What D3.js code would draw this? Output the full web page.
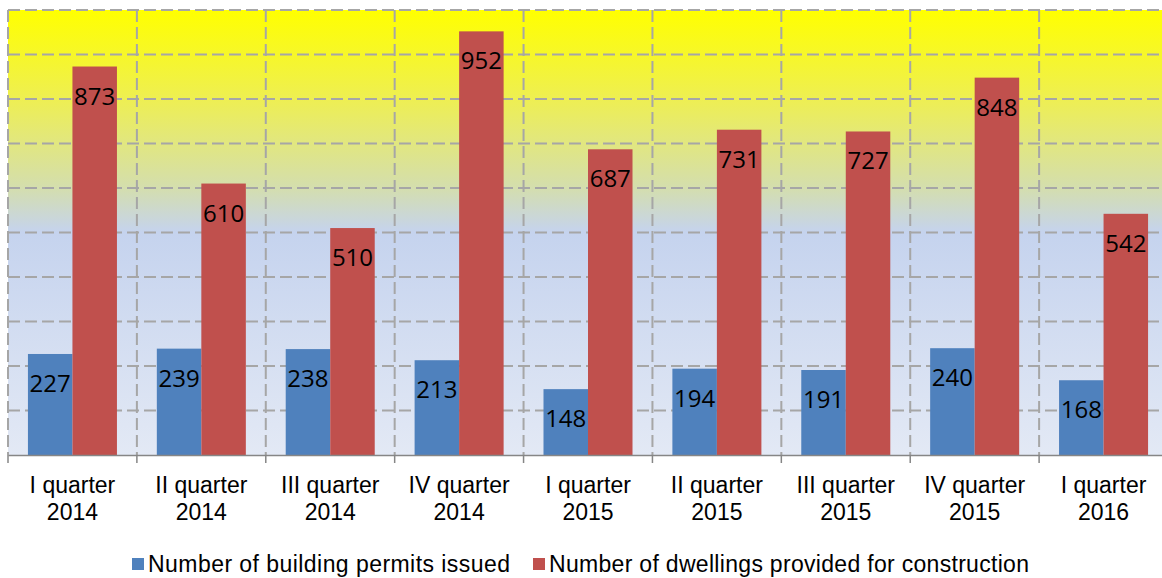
<!DOCTYPE html>
<html>
<head>
<meta charset="utf-8">
<script src="https://cdn.jsdelivr.net/npm/d3@7"></script>
<style>
  body { margin: 0; background: #fff; }
  svg { display: block; }
</style>
</head>
<body>
<script>
var quarters = ["I quarter", "II quarter", "III quarter", "IV quarter", "I quarter", "II quarter", "III quarter", "IV quarter", "I quarter"]
var years = ["2014", "2014", "2014", "2014", "2015", "2015", "2015", "2015", "2016"]
var permits = [227, 239, 238, 213, 148, 194, 191, 240, 168]
var dwellings = [873, 610, 510, 952, 687, 731, 727, 848, 542]
var seriesNames = ["Number of building permits issued", "Number of dwellings provided for construction"]
var seriesColors = ["#4F81BD", "#C0504D"]
var yTicks = [0, 100, 200, 300, 400, 500, 600, 700, 800, 900, 1000]

var width = 1162, height = 578
// plot area (right edge runs past the picture, as in the original)
var plotLeft = 8, plotRight = 1168, plotTop = 10, plotBottom = 455

var svg = d3.select("body")
  .append("svg")
  .attr("width", width)
  .attr("height", height)

var cats = d3.range(quarters.length)

var x0 = d3.scaleBand()
  .domain(cats)
  .range([plotLeft, plotRight])
  .padding(0)

var x1 = d3.scaleBand()
  .domain([0, 1])
  .range([0, x0.bandwidth()])
  .paddingInner(0)
  .paddingOuter(0.448)

var y = d3.scaleLinear()
  .domain([0, 1000])
  .range([plotBottom, plotTop])

// background gradient
var grad = svg.append("defs").append("linearGradient")
  .attr("id", "bg")
  .attr("x1", 0).attr("y1", 0).attr("x2", 0).attr("y2", 1)
grad.append("stop").attr("offset", "0%").attr("stop-color", "#FFFF00")
grad.append("stop").attr("offset", "20%").attr("stop-color", "#EEEF52")
grad.append("stop").attr("offset", "40%").attr("stop-color", "#D4DEAE")
grad.append("stop").attr("offset", "50%").attr("stop-color", "#C5D3EE")
grad.append("stop").attr("offset", "100%").attr("stop-color", "#E3E9F5")

svg.append("rect")
  .attr("x", plotLeft)
  .attr("y", plotTop)
  .attr("width", plotRight - plotLeft)
  .attr("height", plotBottom - plotTop)
  .attr("fill", "url(#bg)")

// horizontal grid
svg.append("g").selectAll("line")
  .data(yTicks.slice(1))
  .enter()
  .append("line")
  .attr("x1", plotLeft)
  .attr("x2", plotRight)
  .attr("y1", function(d){ return y(d) })
  .attr("y2", function(d){ return y(d) })
  .attr("stroke", "#A6A6A6")
  .attr("stroke-width", 2)
  .attr("stroke-dasharray", "12,5")

// vertical grid at category boundaries
var bounds = cats.map(function(i){ return x0(i) }).concat([plotRight])
svg.append("g").selectAll("line")
  .data(bounds)
  .enter()
  .append("line")
  .attr("x1", function(d){ return d })
  .attr("x2", function(d){ return d })
  .attr("y1", plotTop)
  .attr("y2", plotBottom)
  .attr("stroke", "#A6A6A6")
  .attr("stroke-width", 2)
  .attr("stroke-dasharray", "12,5")

// bars
var rows = cats.map(function(i){ return [permits[i], dwellings[i]] })

var groups = svg.append("g").selectAll("g")
  .data(rows)
  .enter()
  .append("g")
  .attr("transform", function(d, i){ return "translate(" + x0(i) + ",0)" })

groups.selectAll("rect")
  .data(function(d){ return d })
  .enter()
  .append("rect")
  .attr("x", function(d, j){ return x1(j) })
  .attr("y", function(d){ return y(d) })
  .attr("width", x1.bandwidth())
  .attr("height", function(d){ return plotBottom - y(d) })
  .attr("fill", function(d, j){ return seriesColors[j] })

groups.selectAll("text")
  .data(function(d){ return d })
  .enter()
  .append("text")
  .attr("x", function(d, j){ return x1(j) + x1.bandwidth() / 2 })
  .attr("y", function(d){ return y(d) + 38 })
  .attr("text-anchor", "middle")
  .attr("font-family", "'Open Sans', sans-serif")
  .attr("font-size", 24)
  .attr("fill", "#000")
  .text(function(d){ return d })

// x axis
var xAxis = d3.axisBottom(x0).tickSize(0).tickFormat("")
var axisG = svg.append("g")
  .attr("transform", "translate(0," + plotBottom + ")")
  .call(xAxis)
axisG.select(".domain").attr("stroke", "#868686").attr("stroke-width", 1.5)
axisG.selectAll(".tick").remove()

svg.append("g").selectAll("line")
  .data(bounds)
  .enter()
  .append("line")
  .attr("x1", function(d){ return d })
  .attr("x2", function(d){ return d })
  .attr("y1", plotBottom)
  .attr("y2", plotBottom + 8)
  .attr("stroke", "#868686")
  .attr("stroke-width", 1.5)

var labels = svg.append("g").selectAll("text")
  .data(cats)
  .enter()
  .append("text")
  .attr("text-anchor", "middle")
  .attr("font-family", "'Liberation Sans', Arial, sans-serif")
  .attr("font-size", 23)
  .attr("fill", "#000")
labels.append("tspan")
  .attr("x", function(i){ return x0(i) + x0.bandwidth() / 2 })
  .attr("y", 493)
  .text(function(i){ return quarters[i] })
labels.append("tspan")
  .attr("x", function(i){ return x0(i) + x0.bandwidth() / 2 })
  .attr("y", 520)
  .text(function(i){ return years[i] })

// legend (nudged up a little so descenders stay inside the picture)
var legendX = [132, 533]
var legendW = [362, 480]
var legend = svg.append("g").selectAll("g")
  .data(seriesNames)
  .enter()
  .append("g")
legend.append("rect")
  .attr("x", function(d, i){ return legendX[i] })
  .attr("y", 558)
  .attr("width", 12)
  .attr("height", 12)
  .attr("fill", function(d, i){ return seriesColors[i] })
legend.append("text")
  .attr("x", function(d, i){ return legendX[i] + 16 })
  .attr("y", 572)
  .attr("font-family", "'Liberation Sans', Arial, sans-serif")
  .attr("font-size", 23)
  .attr("textLength", function(d, i){ return legendW[i] })
  .attr("fill", "#000")
  .text(function(d){ return d })
</script>
</body>
</html>
